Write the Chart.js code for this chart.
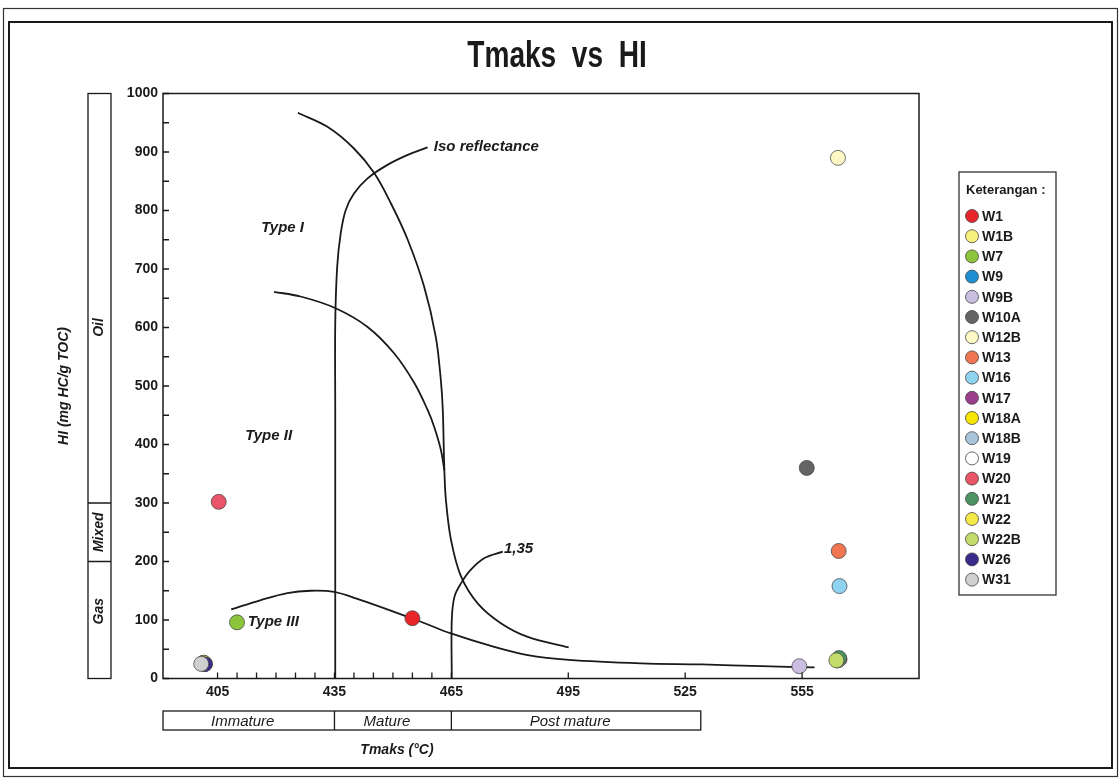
<!DOCTYPE html>
<html>
<head>
<meta charset="utf-8">
<title>Tmaks vs HI</title>
<script src="https://cdn.jsdelivr.net/npm/chart.js@4.4.1/dist/chart.umd.min.js"></script>
<style>
  html, body { margin: 0; padding: 0; background: #fff; }
  #wrap { position: relative; width: 1120px; height: 778px; }
</style>
</head>
<body>
<div id="wrap"><canvas id="chart"></canvas></div>
<script>
// ========================================
// TMAKS vs HI — kerogen type / maturity plot
// ========================================

// --- Samples ---
const wells = ['W1', 'W1B', 'W7', 'W9', 'W9B', 'W10A', 'W12B', 'W13', 'W16', 'W17',
               'W18A', 'W18B', 'W19', 'W20', 'W21', 'W22', 'W22B', 'W26', 'W31'];
const wellColors = ['#e8262a', '#f8f07c', '#8cc43c', '#1e8fd0', '#c9bde0', '#646464', '#fdf8c6',
                    '#ef7650', '#8fd3f0', '#9b3f8c', '#f7e600', '#a8c4d8', '#ffffff', '#ea5468',
                    '#4c9463', '#f5e94a', '#c4dc6a', '#3a2a8a', '#cfcfcf'];
const tmaks = [455, 401.3, 410, 401.8, 554.3, 556.2, 564.2, 564.4, 564.6, 564.6,
               401.4, 564.2, 564.3, 405.3, 564.5, 401.5, 563.8, 401.7, 400.8];
const hi = [103, 26.5, 96, 25, 21, 360, 890, 218, 158, 33,
            26.5, 31, 32, 302, 35, 27, 31, 24.5, 25];

// --- Reference curves ---
const typeIx = [425.6, 433.2, 440.0, 445.2, 449.5, 453.8, 458.0, 461.0, 462.3, 462.8, 463.2, 463.6, 464.9, 467.5, 471.8, 477.8, 484.6, 495.1];
const typeIy = [967, 943, 906, 864, 812, 750, 670, 584, 510, 459, 356, 305, 237, 174, 128, 94, 71, 53];
const typeIIx = [419.5, 426.3, 435.3, 443.5, 450.3, 455.5, 458.9, 460.6, 462.3, 463.2];
const typeIIy = [661, 653, 633, 601, 556, 505, 459, 430, 391, 356];
const typeIIIx = [408.5, 416.1, 422.9, 428.9, 434.9, 441.8, 450.3, 457.2, 464.9, 476.0, 484.6, 495.1, 513.7, 529.2, 544.6, 558.2];
const typeIIIy = [118, 134, 146, 150, 148, 134, 114, 97, 77, 54, 40, 32, 26, 24, 21, 19];
const isoX = [435.2, 435.2, 435.2, 435.7, 436.6, 437.9, 440.0, 443.5, 448.6, 453.8, 458.9];
const isoY = [0, 459, 607, 704, 761, 801, 829, 855, 878, 895, 908];
const ro135X = [465.1, 465.1, 465.8, 467.5, 470.0, 473.5, 478.2];
const ro135Y = [0, 100, 140, 163, 186, 206, 217];

// --- Axes / zones ---
const xTicks = [405, 435, 465, 495, 525, 555];
const xMinor = [410, 415, 420, 425, 430, 440, 445, 450, 455, 460];
const yTicks = [0, 100, 200, 300, 400, 500, 600, 700, 800, 900, 1000];
const yMinor = [50, 150, 250, 350, 450, 550, 650, 750, 850, 950];
const hcZoneLabels = ['Gas', 'Mixed', 'Oil'];
const hcZoneBounds = [0, 200, 300, 1000];
const hcZoneLabelAt = [115, 250, 600];
const maturityLabels = ['Immature', 'Mature', 'Post mature'];
const maturityBounds = [391, 435, 465, 529];
const curveLabels = ['Type I', 'Type II', 'Type III', 'Iso reflectance', '1,35'];
const curveLabelX = [421.7, 418.1, 419.3, 460.5, 478.5];
const curveLabelY = [770, 414, 96, 908, 221];

const FONT = "'Liberation Sans', Arial, sans-serif";
const INK = '#1a1a1a';

const zip = (xs, ys) => xs.map((x, i) => ({ x, y: ys[i] }));

const curve = (label, xs, ys) => ({
    type: 'line',
    label,
    data: zip(xs, ys),
    borderColor: INK,
    borderWidth: 1.8,
    pointRadius: 0,
    tension: 0.35,
    fill: false,
    order: 100,
});

const datasets = wells.map((w, i) => ({
    label: w,
    data: [{ x: tmaks[i], y: hi[i] }],
    backgroundColor: wellColors[i],
    borderColor: 'rgba(70,70,70,0.75)',
    borderWidth: 1,
    pointRadius: 7.5,
    order: wells.length - i,
}));
datasets.push(
    curve('Type I', typeIx, typeIy),
    curve('Type II', typeIIx, typeIIy),
    curve('Type III', typeIIIx, typeIIIy),
    curve('Iso reflectance', isoX, isoY),
    curve('1,35', ro135X, ro135Y),
);

// --- Extra drawing: frames, ticks, zone boxes, labels, legend ---
const decor = {
    id: 'decor',
    beforeDraw(chart) {
        const c = chart.ctx;
        c.save();
        c.fillStyle = '#fff';
        c.fillRect(0, 0, chart.width, chart.height);
        c.strokeStyle = '#333';
        c.lineWidth = 1.2;
        c.strokeRect(3.5, 8.5, 1114, 768);
        c.strokeStyle = INK;
        c.lineWidth = 2;
        c.strokeRect(9, 22, 1103, 746);
        c.restore();
    },
    afterDraw(chart) {
        const c = chart.ctx;
        const a = chart.chartArea;
        const sx = chart.scales.x, sy = chart.scales.y;
        c.save();
        c.strokeStyle = INK;
        c.fillStyle = INK;

        // plot frame
        c.lineWidth = 1.5;
        c.strokeRect(a.left, a.top, a.right - a.left, a.bottom - a.top);

        // tick marks (inside)
        c.lineWidth = 1.3;
        c.beginPath();
        [...xTicks, ...xMinor].forEach(v => {
            const px = sx.getPixelForValue(v);
            c.moveTo(px, a.bottom); c.lineTo(px, a.bottom - 6);
        });
        [...yTicks, ...yMinor].forEach(v => {
            const py = sy.getPixelForValue(v);
            c.moveTo(a.left, py); c.lineTo(a.left + 6, py);
        });
        c.stroke();

        // title
        c.save();
        c.font = `bold 36px ${FONT}`;
        c.textAlign = 'center';
        c.textBaseline = 'middle';
        c.translate(557, 57);
        c.scale(0.78, 1);
        c.fillText('Tmaks  vs  HI', 0, 0);
        c.restore();

        // y axis title
        c.save();
        c.font = `italic bold 14px ${FONT}`;
        c.textAlign = 'center';
        c.textBaseline = 'middle';
        c.translate(64, 386);
        c.rotate(-Math.PI / 2);
        c.fillText('HI (mg HC/g TOC)', 0, 0);
        c.restore();

        // hydrocarbon zone box
        const zx0 = 88, zx1 = 111;
        c.lineWidth = 1.3;
        c.strokeRect(zx0, sy.getPixelForValue(1000), zx1 - zx0, sy.getPixelForValue(0) - sy.getPixelForValue(1000));
        c.beginPath();
        hcZoneBounds.slice(1, -1).forEach(v => {
            const py = sy.getPixelForValue(v);
            c.moveTo(zx0, py); c.lineTo(zx1, py);
        });
        c.stroke();
        c.font = `italic bold 14px ${FONT}`;
        c.textAlign = 'center';
        c.textBaseline = 'middle';
        hcZoneLabels.forEach((t, i) => {
            c.save();
            c.translate((zx0 + zx1) / 2, sy.getPixelForValue(hcZoneLabelAt[i]));
            c.rotate(-Math.PI / 2);
            c.fillText(t, 0, 0);
            c.restore();
        });

        // maturity box
        const my0 = 711, my1 = 730;
        const mx = maturityBounds.map(v => sx.getPixelForValue(v));
        c.strokeRect(mx[0], my0, mx[mx.length - 1] - mx[0], my1 - my0);
        c.beginPath();
        mx.slice(1, -1).forEach(px => { c.moveTo(px, my0); c.lineTo(px, my1); });
        c.stroke();
        c.font = `italic 15px ${FONT}`;
        maturityLabels.forEach((t, i) => {
            c.fillText(t, (mx[i] + mx[i + 1]) / 2 - 6, (my0 + my1) / 2 + 1);
        });

        // x axis title
        c.font = `italic bold 14px ${FONT}`;
        c.fillText('Tmaks (°C)', 397, 750);

        // curve labels
        c.font = `italic bold 15px ${FONT}`;
        curveLabels.forEach((t, i) => {
            c.textAlign = i === 3 || i === 4 ? 'left' : 'center';
            c.fillText(t, sx.getPixelForValue(curveLabelX[i]), sy.getPixelForValue(curveLabelY[i]));
        });

        // legend
        const lx = 959, ly = 172, lw = 97, lh = 423;
        c.lineWidth = 1.3;
        c.strokeStyle = '#333';
        c.strokeRect(lx, ly, lw, lh);
        c.textAlign = 'left';
        c.font = `bold 13px ${FONT}`;
        c.fillText('Keterangan :', lx + 7, ly + 18);
        c.font = `bold 14px ${FONT}`;
        wells.forEach((w, i) => {
            const cy = ly + 44 + i * 20.2;
            c.beginPath();
            c.arc(lx + 13, cy, 6.5, 0, Math.PI * 2);
            c.fillStyle = wellColors[i];
            c.fill();
            c.strokeStyle = 'rgba(70,70,70,0.8)';
            c.lineWidth = 1;
            c.stroke();
            c.fillStyle = INK;
            c.fillText(w, lx + 23, cy + 1);
        });
        c.restore();
    }
};

new Chart(document.getElementById('chart'), {
    type: 'scatter',
    data: { datasets },
    options: {
        responsive: true,
        maintainAspectRatio: false,
        animation: false,
        layout: { padding: { left: 103, right: 201, top: 93.5, bottom: 69.5 } },
        plugins: {
            legend: { display: false },
            title: { display: false },
            tooltip: { enabled: false },
        },
        scales: {
            x: {
                type: 'linear',
                min: 391,
                max: 585,
                grid: { display: false, drawTicks: false },
                border: { display: false },
                afterBuildTicks: s => { s.ticks = xTicks.map(v => ({ value: v })); },
                afterFit: s => { s.height = 30; },
                ticks: { color: INK, padding: 5, callback: v => String(v), font: { family: FONT, size: 14, weight: 'bold' } },
            },
            y: {
                min: 0,
                max: 1000,
                grid: { display: false, drawTicks: false },
                border: { display: false },
                afterBuildTicks: s => { s.ticks = yTicks.map(v => ({ value: v })); },
                afterFit: s => { s.width = 60; },
                ticks: { color: INK, padding: 5, callback: v => String(v), font: { family: FONT, size: 14, weight: 'bold' } },
            },
        },
    },
    plugins: [decor],
});
</script>
</body>
</html>
